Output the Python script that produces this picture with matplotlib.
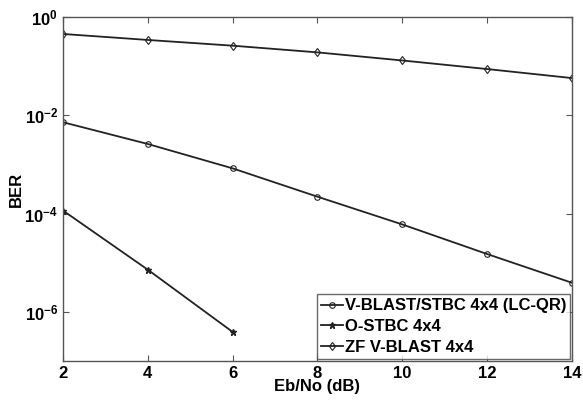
import numpy as np
import matplotlib.pyplot as plt
from matplotlib.ticker import FixedLocator

plt.rcParams['font.family'] = ['Liberation Sans', 'DejaVu Sans']
plt.rcParams['font.weight'] = 'bold'

snr = [2, 4, 6, 8, 10, 12, 14]
ber_lcqr = [7.2e-3, 2.6e-3, 8.3e-4, 2.2e-4, 6.0e-5, 1.5e-5, 3.9e-6]
snr_ostbc = [2, 4, 6]
ber_ostbc = [1.15e-4, 7.2e-6, 3.9e-7]
ber_zf = [0.45, 0.34, 0.26, 0.19, 0.13, 0.087, 0.057]

fig = plt.figure(figsize=(5.83, 4.01), dpi=100)
ax = fig.add_axes([0.108, 0.0998, 0.873, 0.858])

ax.semilogy(snr, ber_lcqr, '-o', color='#222222', lw=1.3, ms=4, mfc='none',
            mew=0.8, label='V-BLAST/STBC 4x4 (LC-QR)')
ax.semilogy(snr_ostbc, ber_ostbc, '-*', color='#222222', lw=1.3, ms=4.5,
            label='O-STBC 4x4')
ax.semilogy(snr, ber_zf, '-d', color='#222222', lw=1.3, ms=4.5, mfc='none',
            mew=0.8, label='ZF V-BLAST 4x4')

ax.set_xlim(2, 14)
ax.set_ylim(1e-7, 1)
ax.set_xticks(snr)
ax.yaxis.set_major_locator(FixedLocator([1e-6, 1e-4, 1e-2, 1e0]))
ax.yaxis.set_minor_locator(FixedLocator([]))
ax.tick_params(direction='in', top=True, right=True, labelsize=12, length=4,
               color='#555555')
for s in ax.spines.values():
    s.set_color('#555555')
    s.set_linewidth(1.0)

ax.set_xlabel('Eb/No (dB)', fontsize=12, fontweight='bold', labelpad=-1)
ax.set_ylabel('BER', fontsize=12, fontweight='bold', labelpad=0)

leg = ax.legend(loc='lower right', fontsize=12, frameon=True, fancybox=False,
                borderaxespad=0.1, handlelength=1.3, handletextpad=0.1,
                labelspacing=0.35, borderpad=0.25)
leg.get_frame().set_edgecolor('#444444')
leg.get_frame().set_linewidth(1.0)

fig.savefig('out.png', dpi=100)
